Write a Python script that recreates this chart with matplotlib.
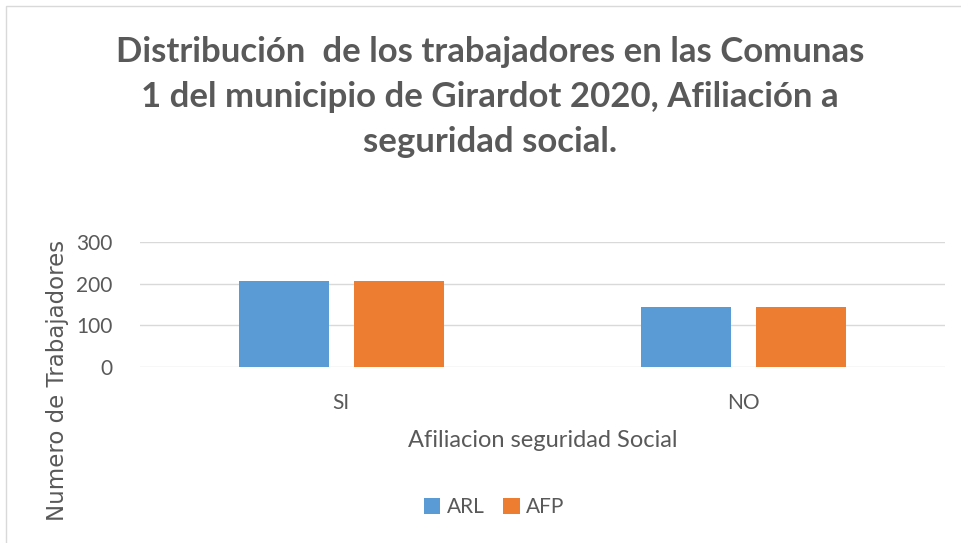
import numpy as np
import matplotlib.pyplot as plt
from matplotlib.patches import Rectangle

categorias = ['SI', 'NO']
arl = [206, 144]
afp = [206, 144]
series = ['ARL', 'AFP']

azul = '#5B9BD5'
naranja = '#ED7D31'
gris = '#595959'

plt.rcParams['font.family'] = ['Lato', 'DejaVu Sans']

fig = plt.figure(figsize=(9.61, 5.43), dpi=100)
ax = fig.add_axes([140 / 961, 1 - 367 / 543, 805 / 961, 125 / 543])

x = np.arange(len(categorias))
w = 0.224
ax.bar(x - 0.143, arl, w, color=azul, label=series[0], zorder=3)
ax.bar(x + 0.143, afp, w, color=naranja, label=series[1], zorder=3)

ax.set_xlim(-0.5, 1.5)
ax.set_ylim(0, 300)
ax.set_yticks([0, 100, 200, 300])
ax.set_xticks(x)
ax.set_xticklabels(categorias)
ax.tick_params(length=0, labelsize=15, colors=gris)
ax.tick_params(axis='x', pad=19)
ax.tick_params(axis='y', pad=20)
ax.grid(axis='y', color='#D9D9D9', linewidth=1, zorder=0)
for s in ax.spines.values():
    s.set_visible(False)

ax.set_xlabel('Afiliacion seguridad Social', fontsize=17, color=gris, labelpad=12)
fig.text(58 / 961, 1 - 380 / 543, 'Numero de Trabajadores', rotation=90,
         ha='center', va='center', fontsize=16.5, color=gris, family='DejaVu Sans')

fig.text(490 / 961, 1 - 97 / 543,
         'Distribución  de los trabajadores en las Comunas\n'
         '1 del municipio de Girardot 2020, Afiliación a\n'
         'seguridad social.',
         ha='center', va='center', fontsize=25, fontweight='bold', color=gris,
         linespacing=1.5)

fig.legend(loc='center', bbox_to_anchor=(494 / 961, 1 - 507 / 543), ncol=2, frameon=False,
           fontsize=15, handlelength=0.8, handleheight=0.8, handletextpad=0.3,
           columnspacing=0.9, labelcolor=gris)

fig.patches.append(Rectangle((6 / 961, -0.1), 1.1, 1 - 6 / 543 + 0.1, transform=fig.transFigure,
                             fill=False, edgecolor='#D9D9D9', linewidth=1))

fig.savefig('out.png', dpi=100)
